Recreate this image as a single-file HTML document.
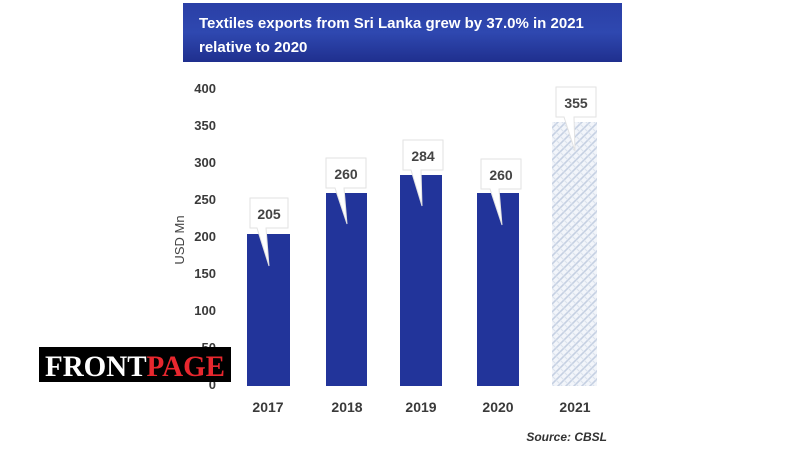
<!DOCTYPE html>
<html><head><meta charset="utf-8"><style>
body{margin:0;width:800px;height:450px;background:#fff;overflow:hidden;font-family:"Liberation Sans",sans-serif}
</style></head><body>
<svg width="800" height="450" viewBox="0 0 800 450" xmlns="http://www.w3.org/2000/svg">
<defs>
<linearGradient id="tg" x1="0" y1="0" x2="0" y2="1">
<stop offset="0" stop-color="#2a3fa6"/><stop offset="0.5" stop-color="#2f48b0"/><stop offset="1" stop-color="#1f2f8e"/>
</linearGradient>
<pattern id="hatch" width="8" height="8" patternUnits="userSpaceOnUse">
<rect width="8" height="8" fill="#f2f5fa"/>
<path d="M0 8L8 0M-2 2L2 -2M6 10L10 6" stroke="#c5d0e2" stroke-width="1.6"/>
<path d="M0 0L8 8" stroke="#dbe2ee" stroke-width="1"/>
</pattern>
</defs>
<rect x="183" y="3" width="439" height="59" fill="url(#tg)"/>
<text x="199" y="28" fill="#fff" font-size="15" font-weight="bold">Textiles exports from Sri Lanka grew by 37.0% in 2021</text>
<text x="199" y="52" fill="#fff" font-size="15" font-weight="bold">relative to 2020</text>
<g font-size="13" font-weight="bold" fill="#3a3a3a" text-anchor="end">
<text x="216" y="93">400</text><text x="216" y="130">350</text><text x="216" y="167">300</text>
<text x="216" y="204">250</text><text x="216" y="241">200</text><text x="216" y="278">150</text>
<text x="216" y="315">100</text><text x="216" y="352">50</text><text x="216" y="389">0</text>
</g>
<text transform="translate(184,240) rotate(-90)" font-size="13" fill="#444" text-anchor="middle">USD Mn</text>
<g fill="#22349a">
<rect x="247" y="234" width="43" height="152"/>
<rect x="326" y="193" width="41" height="193"/>
<rect x="400" y="175" width="42" height="211"/>
<rect x="477" y="193" width="42" height="193"/>
</g>
<rect x="552" y="122" width="45" height="264" fill="url(#hatch)"/>
<g font-size="14" font-weight="bold" fill="#3a3a3a" text-anchor="middle">
<text x="268" y="412">2017</text><text x="347" y="412">2018</text><text x="421" y="412">2019</text>
<text x="498" y="412">2020</text><text x="575" y="412">2021</text>
</g>
<g fill="#fff" stroke="#e2e2e2" stroke-width="1">
<path d="M250 198h38v30h-22l3 38l-12-38h-7z"/>
<path d="M326 158h40v30h-22l3 36l-12-36h-9z"/>
<path d="M403 140h40v30h-22l1 36l-11-36h-8z"/>
<path d="M481 159h40v30h-22l3 36l-12-36h-9z"/>
<path d="M556 87h40v30h-22l1 34l-11-34h-8z"/>
</g>
<g font-size="14" font-weight="bold" fill="#444" text-anchor="middle">
<text x="269" y="219">205</text><text x="346" y="179">260</text><text x="423" y="161">284</text>
<text x="501" y="180">260</text><text x="576" y="108">355</text>
</g>
<text x="607" y="441" font-size="12" font-style="italic" font-weight="bold" fill="#333" text-anchor="end">Source: CBSL</text>
<rect x="39" y="347" width="192" height="35" fill="#000"/>
<text x="135" y="376" font-family="Liberation Serif,serif" font-weight="bold" font-size="30" text-anchor="middle" textLength="180" lengthAdjust="spacingAndGlyphs"><tspan fill="#fff">FRONT</tspan><tspan fill="#e8272e">PAGE</tspan></text>
</svg>
</body></html>
